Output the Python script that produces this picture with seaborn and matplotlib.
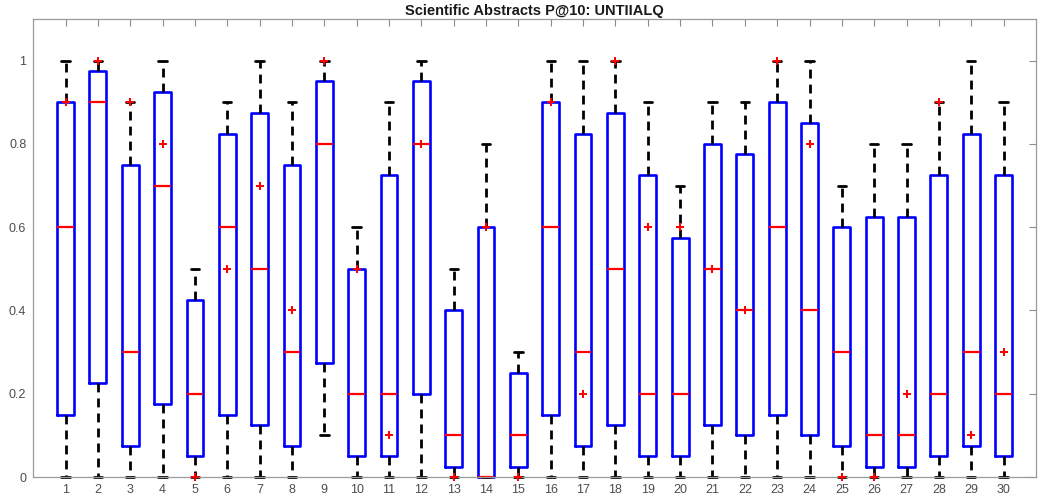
import numpy as np
import pandas as pd
import matplotlib
matplotlib.use("Agg")
import matplotlib.pyplot as plt
import seaborn as sns

# Datos (una caja por consulta)
queries = [str(i) for i in range(1, 31)]
whisk_lo = [0, 0, 0, 0, 0, 0, 0, 0, 0.1, 0,
            0, 0, 0, 0, 0, 0, 0, 0, 0, 0,
            0, 0, 0, 0, 0, 0, 0, 0, 0, 0]
q1 = [0.15, 0.225, 0.075, 0.175, 0.05, 0.15, 0.125, 0.075, 0.275, 0.05,
      0.05, 0.2, 0.025, 0, 0.025, 0.15, 0.075, 0.125, 0.05, 0.05,
      0.125, 0.1, 0.15, 0.1, 0.075, 0.025, 0.025, 0.05, 0.075, 0.05]
median = [0.6, 0.9, 0.3, 0.7, 0.2, 0.6, 0.5, 0.3, 0.8, 0.2,
          0.2, 0.8, 0.1, 0, 0.1, 0.6, 0.3, 0.5, 0.2, 0.2,
          0.5, 0.4, 0.6, 0.4, 0.3, 0.1, 0.1, 0.2, 0.3, 0.2]
q3 = [0.9, 0.975, 0.75, 0.925, 0.425, 0.825, 0.875, 0.75, 0.95, 0.5,
      0.725, 0.95, 0.4, 0.6, 0.25, 0.9, 0.825, 0.875, 0.725, 0.575,
      0.8, 0.775, 0.9, 0.85, 0.6, 0.625, 0.625, 0.725, 0.825, 0.725]
whisk_hi = [1.0, 1.0, 0.9, 1.0, 0.5, 0.9, 1.0, 0.9, 1.0, 0.6,
            0.9, 1.0, 0.5, 0.8, 0.3, 1.0, 1.0, 1.0, 0.9, 0.7,
            0.9, 0.9, 1.0, 1.0, 0.7, 0.8, 0.8, 0.9, 1.0, 0.9]
# Valor del sistema UNTIIALQ (cruces rojas)
system_p10 = [0.9, 1.0, 0.9, 0.8, 0.0, 0.5, 0.7, 0.4, 1.0, 0.5,
              0.1, 0.8, 0.0, 0.6, 0.0, 0.9, 0.2, 1.0, 0.6, 0.6,
              0.5, 0.4, 1.0, 0.8, 0.0, 0.0, 0.2, 0.9, 0.1, 0.3]

# Tabla larga: los cinco valores de cada caja
rows = []
for i, q in enumerate(queries):
    for v in [whisk_lo[i], q1[i], median[i], q3[i], whisk_hi[i]]:
        rows.append({"query": q, "p10": v})
df = pd.DataFrame(rows)
df_sys = pd.DataFrame({"query": queries, "p10": system_p10})

sns.set_style("white")
plt.rcParams["font.family"] = ["Liberation Sans", "DejaVu Sans"]

fig = plt.figure(figsize=(10.38, 5.0), dpi=100)
ax = fig.add_axes([0.032, 0.046, 0.966, 0.916])

sns.boxplot(data=df, x="query", y="p10", order=queries, whis=(0, 100),
            fill=False, width=0.52, linecolor="blue", linewidth=1.6,
            showfliers=False, ax=ax,
            boxprops={"color": "blue", "linewidth": 1.9},
            medianprops={"color": "red", "linewidth": 1.6},
            whiskerprops={"color": "black", "linewidth": 2.0, "linestyle": (0, (3.2, 2.2))},
            capprops={"color": "black", "linewidth": 2.0})

# Que las barras en 0 no se corten con el eje
for ln in ax.lines:
    ln.set_clip_on(False)

sns.scatterplot(data=df_sys, x="query", y="p10", marker="P", color="red",
                s=40, linewidth=0, zorder=5, ax=ax, legend=False, clip_on=False)

ax.set_xlim(-1, 30)
ax.set_ylim(0, 1.1)
ax.set_yticks([0, 0.2, 0.4, 0.6, 0.8, 1.0])
ax.set_yticklabels(["0", "0.2", "0.4", "0.6", "0.8", "1"])
ax.set_xlabel("")
ax.set_ylabel("")
ax.tick_params(direction="in", top=True, right=True, length=5, width=0.8,
               color="#8c8c8c", labelcolor="#4d4d4d", labelsize=9, pad=5)
for s in ax.spines.values():
    s.set_color("#9a9a9a")
    s.set_linewidth(0.9)
ax.set_title("Scientific Abstracts P@10: UNTIIALQ", fontsize=10.5, fontweight="bold",
             color="#1a1a1a", pad=3)

fig.savefig("out.png", dpi=100)
